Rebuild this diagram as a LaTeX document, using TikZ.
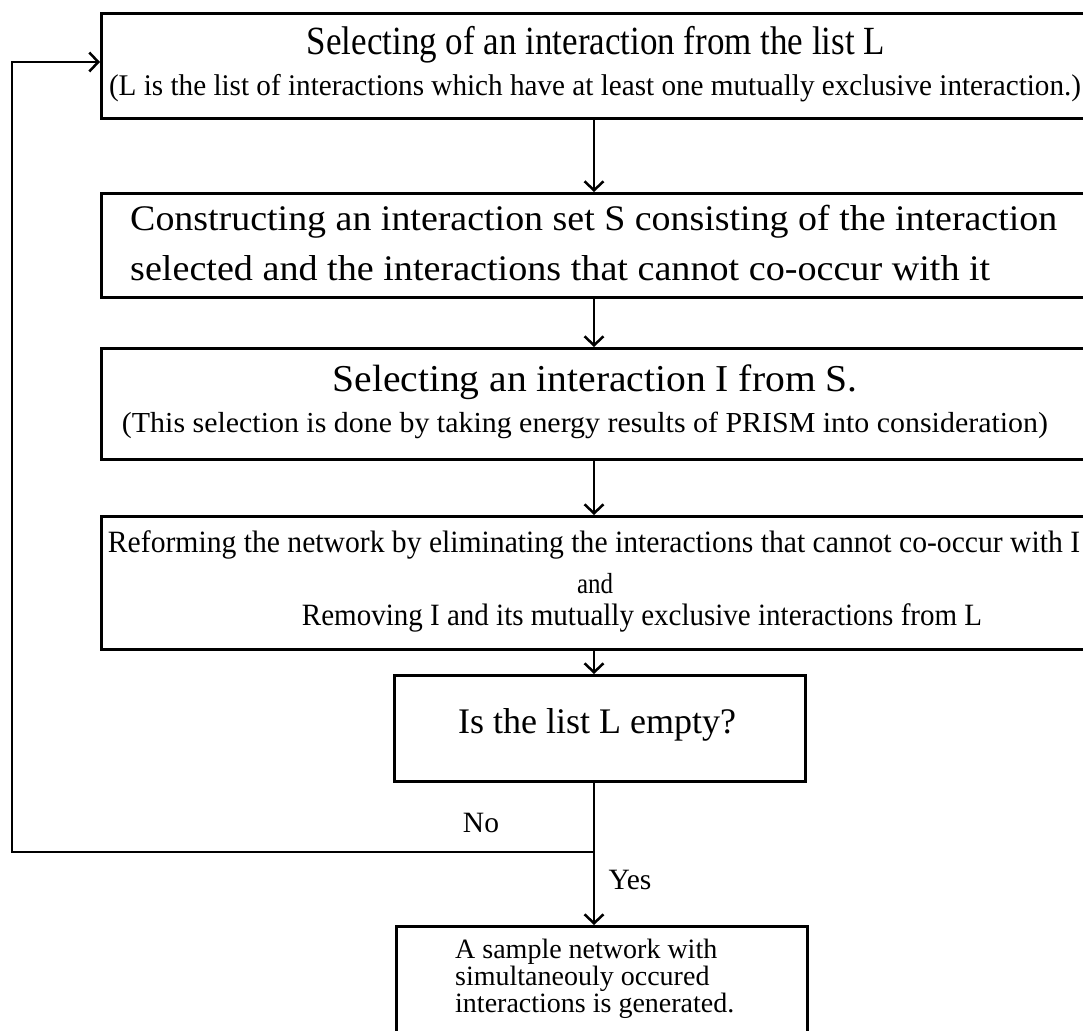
\documentclass[tikz,border=0pt]{standalone}
\usepackage{fontspec}
\setmainfont{Liberation Serif}
\usetikzlibrary{arrows.meta}
\newcommand{\fitw}[3]{{\fontsize{#1}{#1}\selectfont\resizebox{#2pt}{\height}{#3}}}
\newcommand{\nat}[2]{{\fontsize{#1}{#1}\selectfont #2}}
\tikzset{
  box/.style={draw=black, line width=3pt, fill=white, inner sep=0pt, anchor=north west},
  txt/.style={inner sep=0pt, text=black},
  conn/.style={draw=black, line width=2.5pt},
  arr/.style={conn, -{Straight Barb[length=9pt,width=19pt,line width=2.5pt]}}
}
\begin{document}
\begin{tikzpicture}[x=1pt,y=-1pt]
\useasboundingbox (0,0) rectangle (1083,1030);
\clip (0,0) rectangle (1083,1030);
\fill[white] (0,0) rectangle (1083,1030);
% boxes
\node[box, minimum width=992pt, minimum height=105pt] (b1) at (100,12) {};
\node[box, minimum width=992pt, minimum height=104pt] (b2) at (100,192) {};
\node[box, minimum width=992pt, minimum height=111pt] (b3) at (100,347) {};
\node[box, minimum width=992pt, minimum height=133pt] (b4) at (100,515) {};
\node[box, minimum width=411pt, minimum height=106pt] (b5) at (393,674) {};
\node[box, minimum width=411pt, minimum height=130pt] (b6) at (395,925) {};
% texts
\node[txt] (t1a) at (596,45) {\fitw{40}{578}{Selecting of an interaction from the list L}};
\node[txt] (t1b) at (595,88) {\fitw{30}{972}{(L is the list of interactions which have at least one mutually exclusive interaction.)}};
\node[txt, anchor=west] (t2a) at (130,222) {\fitw{36}{927}{Constructing an interaction set S consisting of the interaction}};
\node[txt, anchor=west] (t2b) at (130,268) {\fitw{36}{860}{selected and the interactions that cannot co-occur with it}};
\node[txt] (t3a) at (595,382) {\fitw{38}{525}{Selecting an interaction I from S.}};
\node[txt] (t3b) at (585,425) {\fitw{29}{926}{(This selection is done by taking energy results of PRISM into consideration)}};
\node[txt] (t4a) at (594,545) {\fitw{31}{972}{Reforming the network by eliminating the interactions that cannot co-occur with I}};
\node[txt] (t4b) at (595,584) {\fitw{29}{36}{and}};
\node[txt] (t4c) at (642,618) {\fitw{31}{680}{Removing I and its mutually exclusive interactions from L}};
\node[txt] (t5) at (597,725) {\nat{36}{Is the list L empty?}};
\node[txt, anchor=base west] (t6a) at (455,958) {\nat{28}{A sample network with}};
\node[txt, anchor=base west] (t6b) at (455,985) {\nat{28}{simultaneouly occured}};
\node[txt, anchor=base west] (t6c) at (455,1012) {\nat{28}{interactions is generated.}};
% connectors
\coordinate (spine) at (594,0);
\coordinate (split) at (594,852);
\coordinate (loopB) at (12,852);
\coordinate (loopT) at (12,62);
\draw[arr] (b1.south -| spine) -- (b2.north -| spine);
\draw[arr] (b2.south -| spine) -- (b3.north -| spine);
\draw[arr] (b3.south -| spine) -- (b4.north -| spine);
\draw[arr] (b4.south -| spine) -- (b5.north -| spine);
\draw[conn] (b5.south -| spine) -- (split);
\draw[arr] (split) -- (b6.north -| spine);
\draw[arr, line join=miter] (split) -- (loopB) -- (loopT) -- (b1.west |- loopT);
\node[txt] (no) at (481,823) {\nat{29.5}{No}};
\node[txt] (yes) at (630,880) {\nat{29.5}{Yes}};
\end{tikzpicture}
\end{document}
